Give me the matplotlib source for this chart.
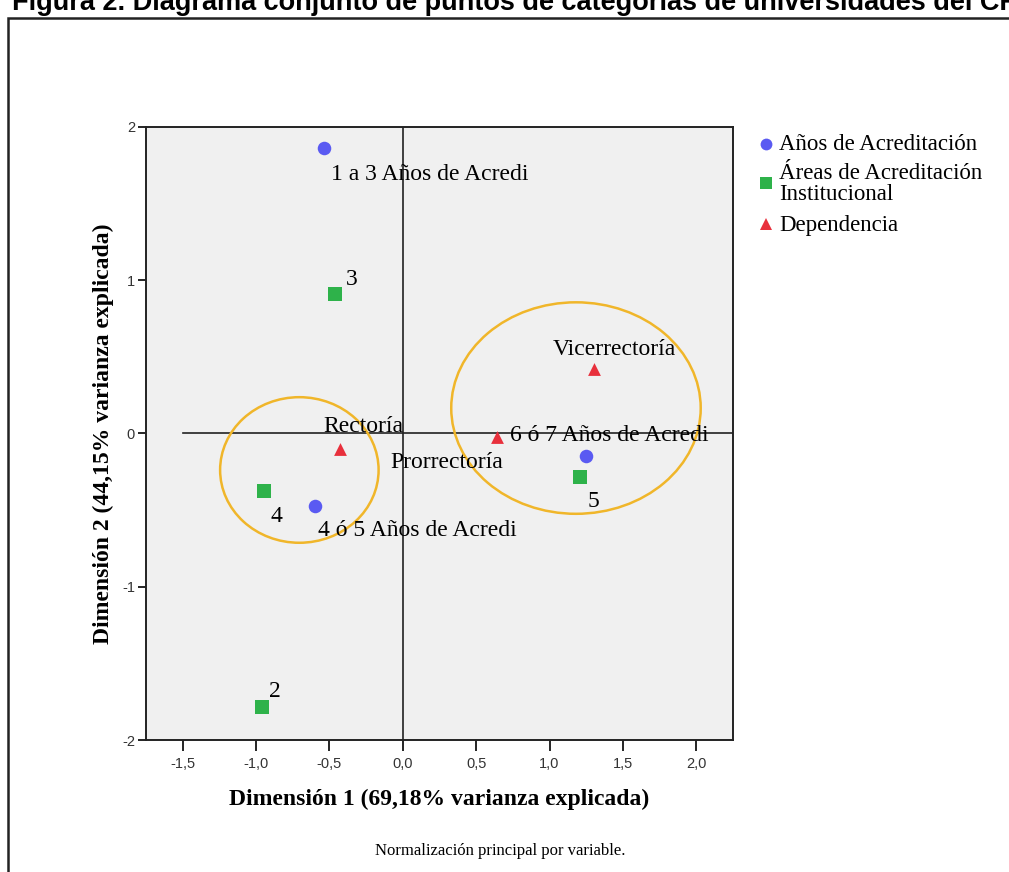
import numpy as np
import matplotlib.pyplot as plt
from matplotlib.patches import Ellipse, Rectangle
from matplotlib.lines import Line2D

# Datos de las categorias (coordenadas de las dimensiones 1 y 2)
anios_lbl = ["1 a 3 Años de Acredi", "4 ó 5 Años de Acredi", "6 ó 7 Años de Acredi"]
anios_x = [-0.54, -0.60, 1.25]
anios_y = [1.86, -0.47, -0.15]

areas_lbl = ["3", "4", "5", "2"]
areas_x = [-0.46, -0.945, 1.205, -0.96]
areas_y = [0.91, -0.375, -0.285, -1.785]

dep_lbl = ["Vicerrectoría", "Rectoría", "Prorrectoría"]
dep_x = [1.30, -0.425, 0.645]
dep_y = [0.42, -0.10, -0.02]

xticks = [-1.5, -1.0, -0.5, 0.0, 0.5, 1.0, 1.5, 2.0]
xtick_lbl = ["-1,5", "-1,0", "-0,5", "0,0", "0,5", "1,0", "1,5", "2,0"]
yticks = [-2, -1, 0, 1, 2]

serif = "Liberation Serif"
sans = "Liberation Sans"
W, H = 1009, 872

fig = plt.figure(figsize=(W / 100, H / 100), dpi=100)
ax = fig.add_axes([146 / W, 1 - 740 / H, (733 - 146) / W, (740 - 127) / H])
ax.set_facecolor("#f0f0f0")

# marco exterior y titulo (el titulo queda cortado arriba, como en el original)
fig.patches.append(Rectangle((8 / W, -0.1), 1.2, 1 - 18 / H + 0.1, transform=fig.transFigure,
                             fill=False, edgecolor="#222222", linewidth=1.8))
fig.text(12 / W, 1 - 10 / H, "Figura 2. Diagrama conjunto de puntos de categorías de universidades del CRU",
         fontsize=19.5, fontweight="bold", family=sans, va="baseline", ha="left")

# lineas de referencia
ax.plot([-1.5, 2.25], [0, 0], color="#222222", lw=1.2, zorder=1)
ax.axvline(0, color="#222222", lw=1.2, zorder=1)

ax.scatter(anios_x, anios_y, marker="o", s=95, color="#5a5af2", zorder=3, linewidths=0)
ax.scatter(areas_x, areas_y, marker="s", s=95, color="#2eb24a", zorder=3, linewidths=0)
ax.scatter(dep_x, dep_y, marker="^", s=85, color="#e8303c", zorder=3, linewidths=0)

# etiquetas de los puntos
fs = 17
kw = dict(fontsize=fs, family=serif, va="center")
ax.text(anios_x[0] + 0.048, anios_y[0] - 0.17, anios_lbl[0], ha="left", **kw)
ax.text(anios_x[1] + 0.023, anios_y[1] - 0.16, anios_lbl[1], ha="left", **kw)
ax.text(dep_x[2] + 0.084, dep_y[2] + 0.005, anios_lbl[2], ha="left", **kw)

ax.text(areas_x[0] + 0.11, areas_y[0] + 0.095, areas_lbl[0], ha="center", **kw)
ax.text(areas_x[1] + 0.082, areas_y[1] - 0.165, areas_lbl[1], ha="center", **kw)
ax.text(areas_x[2] + 0.096, areas_y[2] - 0.16, areas_lbl[2], ha="center", **kw)
ax.text(areas_x[3] + 0.089, areas_y[3] + 0.1, areas_lbl[3], ha="center", **kw)

ax.text(dep_x[0] + 0.14, dep_y[0] + 0.125, dep_lbl[0], ha="center", **kw)
ax.text(dep_x[1] - 0.116, dep_y[1] + 0.145, dep_lbl[1], ha="left", **kw)
ax.text(dep_x[2] - 0.347, dep_y[2] - 0.168, dep_lbl[2], ha="center", **kw)

# elipses de agrupacion
ax.add_patch(Ellipse((-0.705, -0.238), 1.08, 0.95, fill=False, edgecolor="#f0b62a", lw=1.8, zorder=2))
ax.add_patch(Ellipse((1.18, 0.166), 1.70, 1.38, fill=False, edgecolor="#f0b62a", lw=1.8, zorder=2))

ax.set_xlim(-1.75, 2.25)
ax.set_ylim(-2, 2)
ax.set_xticks(xticks)
ax.set_xticklabels(xtick_lbl, family=sans, fontsize=10.5, color="#333333")
ax.set_yticks(yticks)
ax.set_yticklabels([str(v) for v in yticks], family=sans, fontsize=10.5, color="#333333")
ax.tick_params(axis="x", length=8, width=1.2, pad=4)
ax.tick_params(axis="y", length=6, width=1.2, pad=2)
for s in ax.spines.values():
    s.set_linewidth(1.4)
    s.set_color("#222222")

ax.set_xlabel("Dimensión 1 (69,18% varianza explicada)", family=serif, fontweight="bold", fontsize=17, labelpad=13)
ax.set_ylabel("Dimensión 2 (44,15% varianza explicada)", family=serif, fontweight="bold", fontsize=17, labelpad=6)

# leyenda
leg_items = [("o", "#5a5af2", 144, 145, "Años de Acreditación"),
             ("s", "#2eb24a", 183, 184, "Áreas de Acreditación\nInstitucional"),
             ("^", "#e8303c", 224, 225, "Dependencia")]
for mk, col, my, ty, lbl in leg_items:
    fig.add_artist(Line2D([766 / W], [1 - my / H], marker=mk, color=col, markersize=8.5, linestyle="none",
                          markeredgewidth=0, transform=fig.transFigure))
    fig.text(779 / W, 1 - ty / H, lbl, family=serif, fontsize=16.5, va="center", ha="left", linespacing=0.95)

fig.text(500 / W, 1 - 851 / H, "Normalización principal por variable.", family=serif, fontsize=12,
         ha="center", va="center")

fig.savefig("out.png", dpi=100)
